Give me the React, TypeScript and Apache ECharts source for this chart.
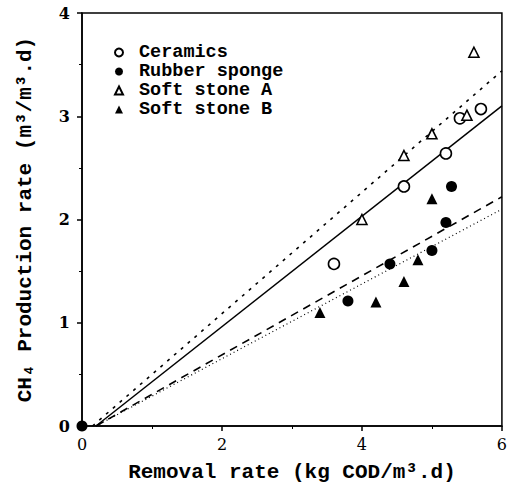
import React, { useEffect, useRef } from "react";
import * as echarts from "echarts";

const seriesNames = ["Ceramics", "Rubber sponge", "Soft stone A", "Soft stone B"];
const ceramics = [[3.6, 1.57], [4.6, 2.32], [5.2, 2.64], [5.4, 2.98], [5.7, 3.07]];
const rubberSponge = [[0, 0], [3.8, 1.21], [4.4, 1.57], [5.0, 1.7], [5.2, 1.97], [5.28, 2.32]];
const softStoneA = [[4.0, 2.0], [4.6, 2.62], [5.0, 2.83], [5.5, 3.01], [5.6, 3.62]];
const softStoneB = [[3.4, 1.1], [4.2, 1.2], [4.6, 1.4], [4.8, 1.61], [5.0, 2.2]];

const fitCeramics = [[0.2, 0], [6, 3.1]];
const fitSoftStoneA = [[0.15, 0], [6, 3.44]];
const fitRubberSponge = [[0.2, 0], [6, 2.22]];
const fitSoftStoneB = [[0.2, 0], [6, 2.1]];

const xTicks = [0, 2, 4, 6];
const yTicks = [0, 1, 2, 3, 4];

const FONT = "DejaVu Serif";
const MONO = "Liberation Mono";

export default function App() {
  const ref = useRef<HTMLDivElement>(null);
  useEffect(() => {
    if (!ref.current) return;
    const chart = echarts.init(ref.current, null, { renderer: "svg" });
    const openStyle = { color: "#fff", borderColor: "#000", borderWidth: 1.6, opacity: 1 };
    const fillStyle = { color: "#000", borderColor: "#000", borderWidth: 0, opacity: 1 };
    const fitLine = (data: number[][], type: any, width: number) => ({
      type: "line",
      data,
      symbol: "none",
      silent: true,
      lineStyle: { color: "#000", width, type },
      z: 1,
    });
    chart.setOption({
      animation: false,
      backgroundColor: "#fff",
      grid: {
        left: 82,
        right: 8,
        top: 13,
        bottom: 61,
        show: true,
        borderColor: "#000",
        borderWidth: 1.5,
        backgroundColor: "transparent",
      },
      legend: {
        data: seriesNames,
        orient: "vertical",
        left: 109,
        top: 38,
        padding: 5,
        itemWidth: 8,
        itemHeight: 8,
        itemGap: 0,
        textStyle: {
          fontFamily: MONO,
          fontWeight: "bold",
          fontSize: 18.5,
          lineHeight: 18.5,
          color: "#000",
          padding: [0, 0, 0, 11],
        },
      },
      xAxis: {
        type: "value",
        min: 0,
        max: 6,
        interval: 2,
        name: "Removal rate (kg COD/m³.d)",
        nameLocation: "middle",
        nameGap: 36,
        nameTextStyle: { fontFamily: MONO, fontWeight: "bold", fontSize: 21, color: "#000" },
        axisLine: { show: true, lineStyle: { color: "#000", width: 1.5 } },
        axisTick: { show: true, length: 5, inside: false, lineStyle: { color: "#000", width: 1.5 } },
        minorTick: { show: true, splitNumber: 2, length: 3, lineStyle: { color: "#000", width: 1 } },
        splitLine: { show: false },
        axisLabel: {
          margin: 10,
          fontFamily: FONT,
          fontSize: 16,
          color: "#000",
          formatter: (v: number) => (xTicks.includes(v) ? String(v) : ""),
        },
      },
      yAxis: {
        type: "value",
        min: 0,
        max: 4,
        interval: 1,
        name: "CH₄ Production rate (m³/m³.d)",
        nameLocation: "middle",
        nameGap: 46,
        nameTextStyle: { fontFamily: MONO, fontWeight: "bold", fontSize: 21, color: "#000" },
        axisLine: { show: true, lineStyle: { color: "#000", width: 1.5 } },
        axisTick: { show: true, length: 5, inside: false, lineStyle: { color: "#000", width: 1.5 } },
        minorTick: { show: true, splitNumber: 2, length: 3, lineStyle: { color: "#000", width: 1 } },
        splitLine: { show: false },
        axisLabel: {
          margin: 12,
          fontFamily: FONT,
          fontSize: 16,
          fontWeight: "bold",
          color: "#000",
          formatter: (v: number) => (yTicks.includes(v) ? String(v) : ""),
        },
      },
      series: [
        fitLine(fitCeramics, "solid", 1.5),
        fitLine(fitSoftStoneA, [3, 6], 1.6),
        fitLine(fitRubberSponge, [8, 6], 1.6),
        fitLine(fitSoftStoneB, [1, 3], 1.2),
        {
          name: "Ceramics",
          type: "scatter",
          data: ceramics,
          symbol: "circle",
          symbolSize: 11,
          itemStyle: openStyle,
          z: 3,
        },
        {
          name: "Rubber sponge",
          type: "scatter",
          data: rubberSponge,
          symbol: "circle",
          symbolSize: 11,
          itemStyle: fillStyle,
          z: 3,
        },
        {
          name: "Soft stone A",
          type: "scatter",
          data: softStoneA,
          symbol: "triangle",
          symbolSize: 10,
          itemStyle: openStyle,
          z: 3,
        },
        {
          name: "Soft stone B",
          type: "scatter",
          data: softStoneB,
          symbol: "triangle",
          symbolSize: 11,
          itemStyle: fillStyle,
          z: 3,
        },
      ],
    });
    return () => chart.dispose();
  }, []);
  return <div ref={ref} style={{ width: 510, height: 488, position: "absolute", left: 0, top: 0 }} />;
}
